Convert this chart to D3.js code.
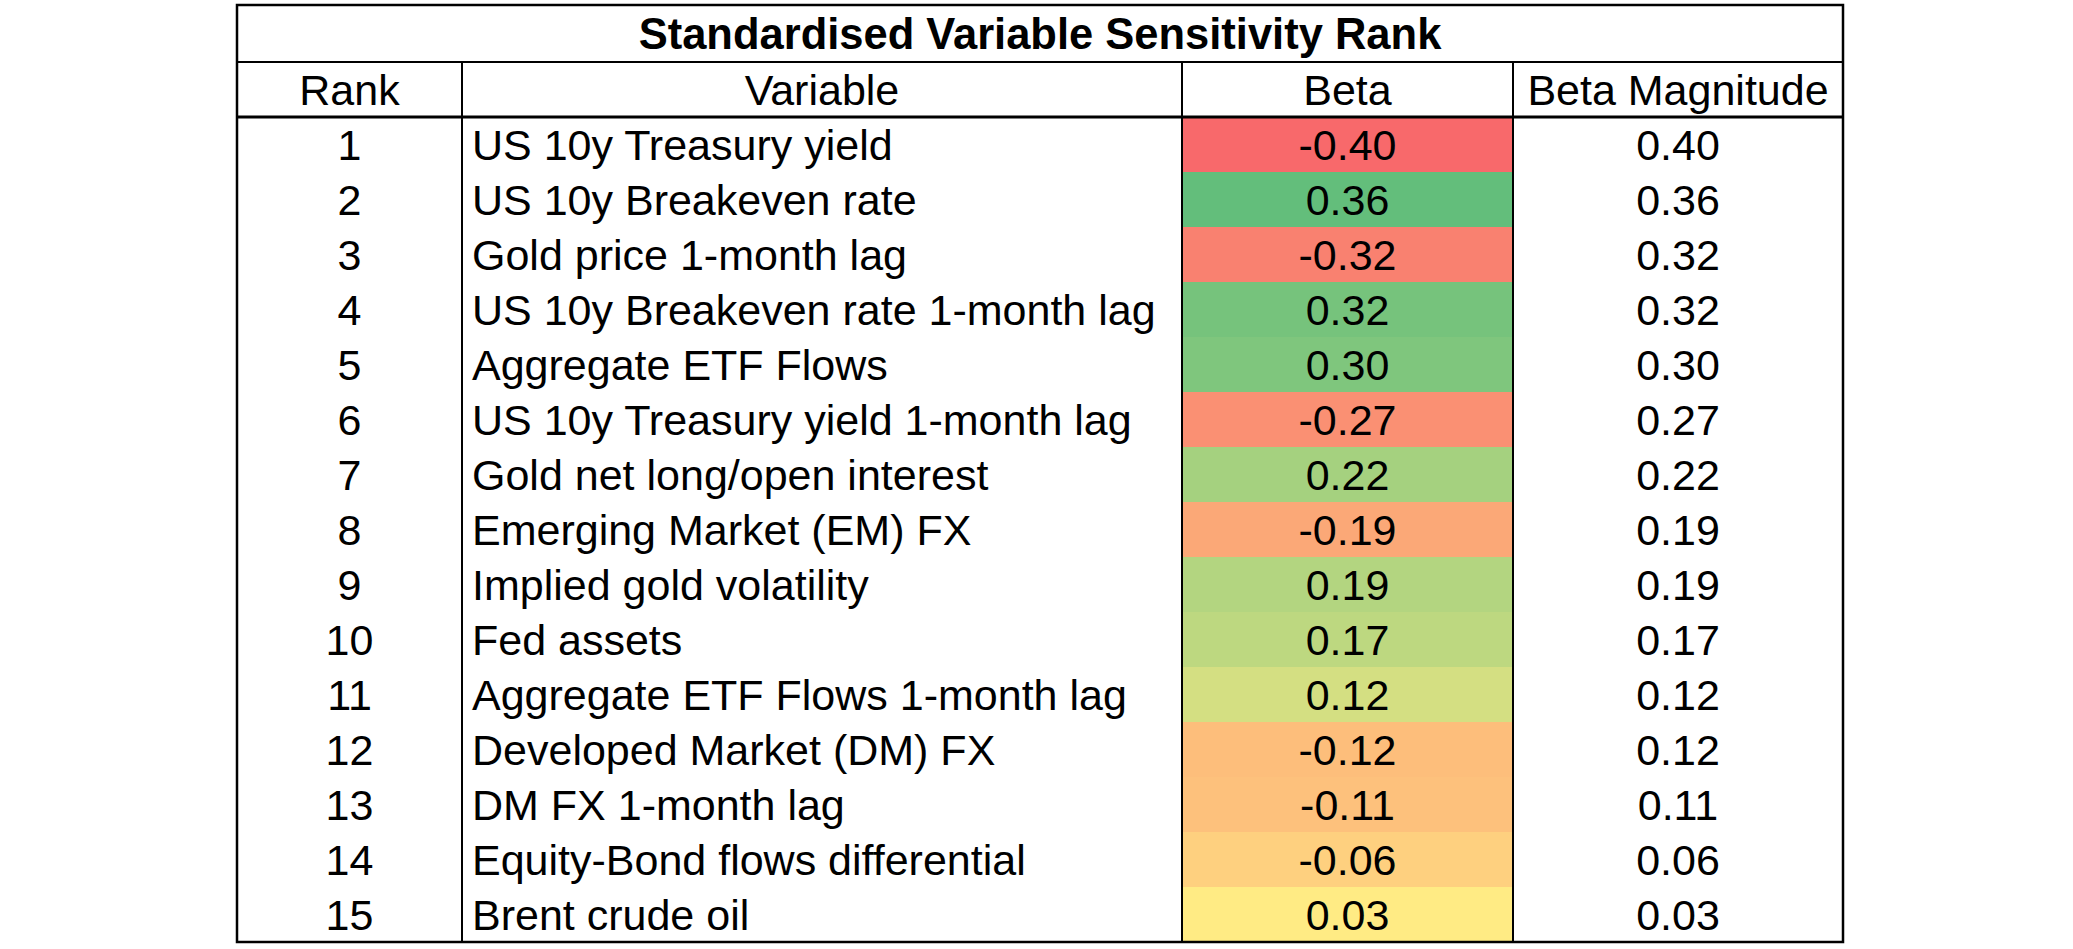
<!DOCTYPE html>
<html>
<head>
<meta charset="utf-8">
<script src="https://cdn.jsdelivr.net/npm/d3@7"></script>
<style>
  html, body { margin: 0; padding: 0; background: #ffffff; }
  svg { display: block; }
  text { font-family: "Liberation Sans", Arial, sans-serif; fill: #000; }
</style>
</head>
<body>
<svg id="chart" width="2073" height="949"></svg>
<script>
// ---- Data ----
const title = "Standardised Variable Sensitivity Rank";
const columnHeaders = ["Rank", "Variable", "Beta", "Beta Magnitude"];
const ranks = [1, 2, 3, 4, 5, 6, 7, 8, 9, 10, 11, 12, 13, 14, 15];
const variables = [
  "US 10y Treasury yield",
  "US 10y Breakeven rate",
  "Gold price 1-month lag",
  "US 10y Breakeven rate 1-month lag",
  "Aggregate ETF Flows",
  "US 10y Treasury yield 1-month lag",
  "Gold net long/open interest",
  "Emerging Market (EM) FX",
  "Implied gold volatility",
  "Fed assets",
  "Aggregate ETF Flows 1-month lag",
  "Developed Market (DM) FX",
  "DM FX 1-month lag",
  "Equity-Bond flows differential",
  "Brent crude oil"
];
const betas = [-0.40, 0.36, -0.32, 0.32, 0.30, -0.27, 0.22, -0.19, 0.19, 0.17, 0.12, -0.12, -0.11, -0.06, 0.03];
const magnitudes = [0.40, 0.36, 0.32, 0.32, 0.30, 0.27, 0.22, 0.19, 0.19, 0.17, 0.12, 0.12, 0.11, 0.06, 0.03];
const scaleColors = ["#F8696B", "#FFEB84", "#63BE7B"];

// ---- Layout ----
const tableLeft = 237, tableRight = 1843;
const tableTop = 5, titleBottom = 62, headerBottom = 117, tableBottom = 942;
const colEdges = [tableLeft, 462, 1182, 1513, tableRight];
const fontSize = 43;
const titleSize = 43.5;

const svg = d3.select("#chart");
svg.append("rect").attr("width", 2073).attr("height", 949).attr("fill", "#fff");

const y = d3.scaleBand().domain(ranks).range([headerBottom, tableBottom]).padding(0);
const color = d3.scaleLinear()
  .domain([d3.min(betas), d3.median(betas), d3.max(betas)])
  .range(scaleColors);
// hyphen-minus, as in the spreadsheet
const fmt = d3.formatLocale({ decimal: ".", thousands: ",", grouping: [3], currency: ["", ""], minus: "-" }).format(".2f");

const rows = ranks.map((r, i) => ({ rank: r, variable: variables[i], beta: betas[i], mag: magnitudes[i] }));

// Beta cell fills
svg.append("g").selectAll("rect").data(rows).join("rect")
  .attr("x", colEdges[2])
  .attr("y", d => y(d.rank))
  .attr("width", colEdges[3] - colEdges[2])
  .attr("height", y.bandwidth() + 0.5)
  .attr("fill", d => color(d.beta));

const capShift = fontSize * 0.716 / 2;
const colCenter = i => (colEdges[i] + colEdges[i + 1]) / 2;

// Title
svg.append("text")
  .attr("x", (tableLeft + tableRight) / 2)
  .attr("y", (tableTop + titleBottom) / 2 + titleSize * 0.716 / 2)
  .attr("text-anchor", "middle")
  .attr("font-weight", "bold")
  .attr("font-size", titleSize)
  .text(title);

// Headers
svg.append("g").selectAll("text").data(columnHeaders).join("text")
  .attr("x", (d, i) => colCenter(i))
  .attr("y", (titleBottom + headerBottom) / 2 + capShift)
  .attr("text-anchor", "middle")
  .attr("font-size", fontSize)
  .text(d => d);

// Body
const body = svg.append("g");
const rowY = d => y(d.rank) + y.bandwidth() / 2 + capShift;
body.selectAll("text.rank").data(rows).join("text").attr("class", "rank")
  .attr("x", colCenter(0)).attr("y", rowY)
  .attr("text-anchor", "middle").attr("font-size", fontSize)
  .text(d => d.rank);
body.selectAll("text.var").data(rows).join("text").attr("class", "var")
  .attr("x", colEdges[1] + 10).attr("y", rowY)
  .attr("text-anchor", "start").attr("font-size", fontSize)
  .text(d => d.variable);
body.selectAll("text.beta").data(rows).join("text").attr("class", "beta")
  .attr("x", colCenter(2)).attr("y", rowY)
  .attr("text-anchor", "middle").attr("font-size", fontSize)
  .text(d => fmt(d.beta));
body.selectAll("text.mag").data(rows).join("text").attr("class", "mag")
  .attr("x", colCenter(3)).attr("y", rowY)
  .attr("text-anchor", "middle").attr("font-size", fontSize)
  .text(d => fmt(d.mag));

// Lines
const lines = svg.append("g").attr("stroke", "#000").attr("fill", "none");
// inner vertical dividers
colEdges.slice(1, 4).forEach(x => {
  lines.append("line").attr("x1", x).attr("x2", x)
    .attr("y1", titleBottom).attr("y2", tableBottom).attr("stroke-width", 2);
});
// title separator
lines.append("line").attr("x1", tableLeft).attr("x2", tableRight)
  .attr("y1", titleBottom).attr("y2", titleBottom).attr("stroke-width", 2);
// header separator
lines.append("line").attr("x1", tableLeft).attr("x2", tableRight)
  .attr("y1", headerBottom).attr("y2", headerBottom).attr("stroke-width", 3);
// outer border
lines.append("rect").attr("x", tableLeft).attr("y", tableTop)
  .attr("width", tableRight - tableLeft).attr("height", tableBottom - tableTop)
  .attr("stroke-width", 2.5);
</script>
</body>
</html>
